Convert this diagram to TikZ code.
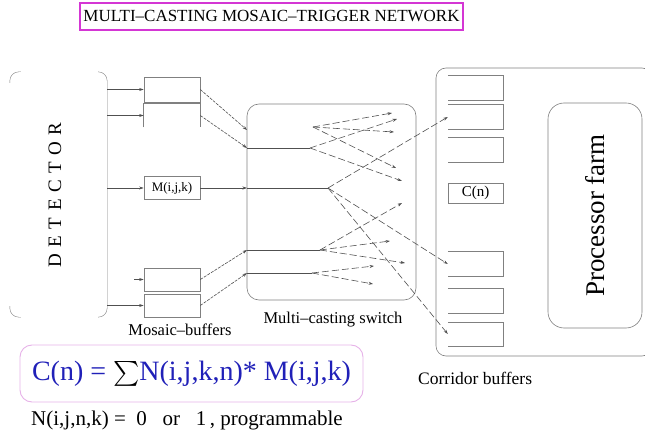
\documentclass[tikz,border=0pt]{standalone}
\usepackage{amsmath}
\usepackage{fontspec}
\setmainfont{Liberation Serif}
\usepackage{tikz}
\usetikzlibrary{arrows.meta,positioning,calc}
\usepackage{xcolor}
\definecolor{frame}{HTML}{D436D4}
\definecolor{formula}{HTML}{E6B2E8}
\definecolor{fblue}{HTML}{2020B8}
\definecolor{wiregray}{HTML}{505050}
\definecolor{boxgray}{HTML}{808080}

\begin{document}
\begin{tikzpicture}[x=1pt,y=-1pt,
  wire/.style={draw=wiregray, line width=0.6pt},
  feed/.style={wire, -{Stealth[length=4.5pt,width=3pt]}},
  fan/.style={feed, dash pattern=on 7pt off 3pt},
  buf/.style={draw=boxgray, line width=0.6pt, minimum width=56pt, minimum height=23pt, inner sep=0pt},
  cor/.style={minimum width=55pt, minimum height=24pt, inner sep=0pt},
  lbl/.style={inner sep=0pt, font=\fontsize{16.5}{18}\selectfont}]
  \useasboundingbox (0,0) rectangle (645,438);

  % title
  \node[draw=frame, line width=1.3pt, minimum width=383pt, minimum height=27pt, inner sep=0pt,
    font=\fontsize{17}{20}\selectfont] (title) at (271.5,16.5) {MULTI--CASTING MOSAIC--TRIGGER NETWORK};

  % detector
  \node[minimum width=97pt, minimum height=245pt, inner sep=0pt] (det) at (58.5,194.5) {};
  \draw[boxgray, rounded corners=9pt] ([xshift=-9pt]det.north east) -- (det.north east) -- (det.south east) -- ([xshift=-9pt]det.south east);
  \draw[boxgray, rounded corners=9pt] ([yshift=-11pt]det.north west) -- (det.north west) -- ([xshift=11pt]det.north west);
  \draw[boxgray, rounded corners=9pt] ([yshift=11pt]det.south west) -- (det.south west) -- ([xshift=11pt]det.south west);
  \node[rotate=90, font=\fontsize{19}{20}\selectfont] (dettext) at (55,195) {\spaceskip=6.5pt D E T E C T O R};

  % mosaic buffers
  \node[buf, minimum height=25pt] (mb1) at (172,89.5) {};
  \node[buf, draw=none] (mb2) at (172,115.5) {};
  \draw[boxgray, line width=0.6pt] (mb2.south west) |- (mb2.north east) -- (mb2.south east);
  \node[buf, font=\fontsize{13}{15}\selectfont] (mij) at (172,188) {M(i,j,k)};
  \node[buf] (mb3) at (172,279.5) {};
  \node[buf] (mb4) at (172,305.5) {};
  \node[lbl] (mblabel) at (180,330) {Mosaic--buffers};

  \foreach \b in {mb1,mb2,mij,mb4}
    \draw[feed] (det.east |- \b.west) -- (\b.west);
  \coordinate (m3in) at (134,279.5);
  \draw[feed] (m3in) -- (mb3.west);

  % switch
  \node[draw=boxgray, line width=0.6pt, rounded corners=12pt, minimum width=169pt, minimum height=196pt, inner sep=0pt] (sw) at (331.5,202) {};
  \node[lbl] (swlabel) at (333,320) {Multi--casting switch};

  \coordinate (s1) at (247,130);
  \coordinate (s2) at (247,148);
  \coordinate (s3) at (247,188);
  \coordinate (s4) at (247,250);
  \coordinate (s5) at (247,273);
  \coordinate (f1) at (313,127);
  \coordinate (f2) at (310,148);
  \coordinate (f3) at (328,188);
  \coordinate (f4) at (320,250);
  \coordinate (f5) at (312,273);

  \draw[feed, dash pattern=on 3pt off 1.2pt] (mb1.east) -- (s1);
  \draw[feed, dash pattern=on 3pt off 1.2pt] (mb2.east) -- (s2);
  \draw[feed] (mij.east) -- (s3);
  \draw[feed, dash pattern=on 3pt off 1.2pt] (mb3.east) -- (s4);
  \draw[feed, dash pattern=on 3pt off 1.2pt] (mb4.east) -- (s5);
  \draw[wire] (s2) -- (f2);
  \draw[wire] (s3) -- (f3);
  \draw[wire] (s4) -- (f4);
  \draw[wire] (s5) -- (f5);

  % corridor buffers
  \node[draw=boxgray, line width=0.6pt, rounded corners=10pt, minimum width=216pt, minimum height=288pt, inner sep=0pt] (cbox) at (544,212) {};
  \node[cor] (c1) at (475.5,88) {};
  \node[cor] (c2) at (475.5,117) {};
  \node[cor] (c3) at (475.5,150) {};
  \node[draw=boxgray, line width=0.6pt, minimum width=55pt, minimum height=20pt, inner sep=0pt,
    font=\fontsize{15}{17}\selectfont] (cn) at (475.5,193) {C(n)};
  \node[cor] (c4) at (475.5,264) {};
  \node[cor] (c5) at (475.5,301) {};
  \node[cor] (c6) at (475.5,334) {};
  \foreach \c in {c1,c2,c3,c4,c5,c6}
    \draw[boxgray, line width=0.6pt] (\c.north west) -- (\c.north east) -- (\c.south east) -- (\c.south west);
  \node[lbl, anchor=west, font=\fontsize{17.5}{19}\selectfont] (cblabel) at (418,378) {Corridor buffers};

  % processor farm
  \node[draw=boxgray, line width=0.6pt, rotate=90, rounded corners=16pt, minimum width=225pt, minimum height=94pt,
    inner sep=0pt, font=\fontsize{27}{30}\selectfont] (farm) at (595,215.5) {Processor farm};

  % fan-out inside the switch
  \coordinate (t11) at (392,113);
  \coordinate (t12) at (394,132);
  \coordinate (t13) at (396,168);
  \coordinate (t21) at (397,119);
  \coordinate (t22) at (402,181);
  \coordinate (t41) at (402,203);
  \coordinate (t42) at (390,241);
  \coordinate (t43) at (405,263);
  \coordinate (t51) at (374,266);
  \coordinate (t52) at (373,284);
  \foreach \t in {t11,t12,t13} \draw[fan] (f1) -- (\t);
  \foreach \t in {t21,t22} \draw[fan] (f2) -- (\t);
  \foreach \t in {c2,c4,c6} \draw[fan] (f3) -- (\t.west);
  \foreach \t in {t41,t42,t43} \draw[fan] (f4) -- (\t);
  \foreach \t in {t51,t52} \draw[fan] (f5) -- (\t);

  % formula
  \node[draw=formula, line width=0.9pt, rounded corners=12pt, minimum width=343pt, minimum height=57pt, inner sep=0pt,
    font=\fontsize{28}{32}\selectfont, text=fblue] (sumbox) at (191.5,373.5)
    {C(n) = \textcolor{black}{$\textstyle\sum$}N(i,j,k,n)* M(i,j,k)};
  \node[lbl, anchor=west, font=\fontsize{21}{23}\selectfont] (prog) at (31,420)
    {N(i,j,n,k) =\ \ 0\ \ \ or\ \ \ 1\,, programmable};
\end{tikzpicture}
\end{document}
